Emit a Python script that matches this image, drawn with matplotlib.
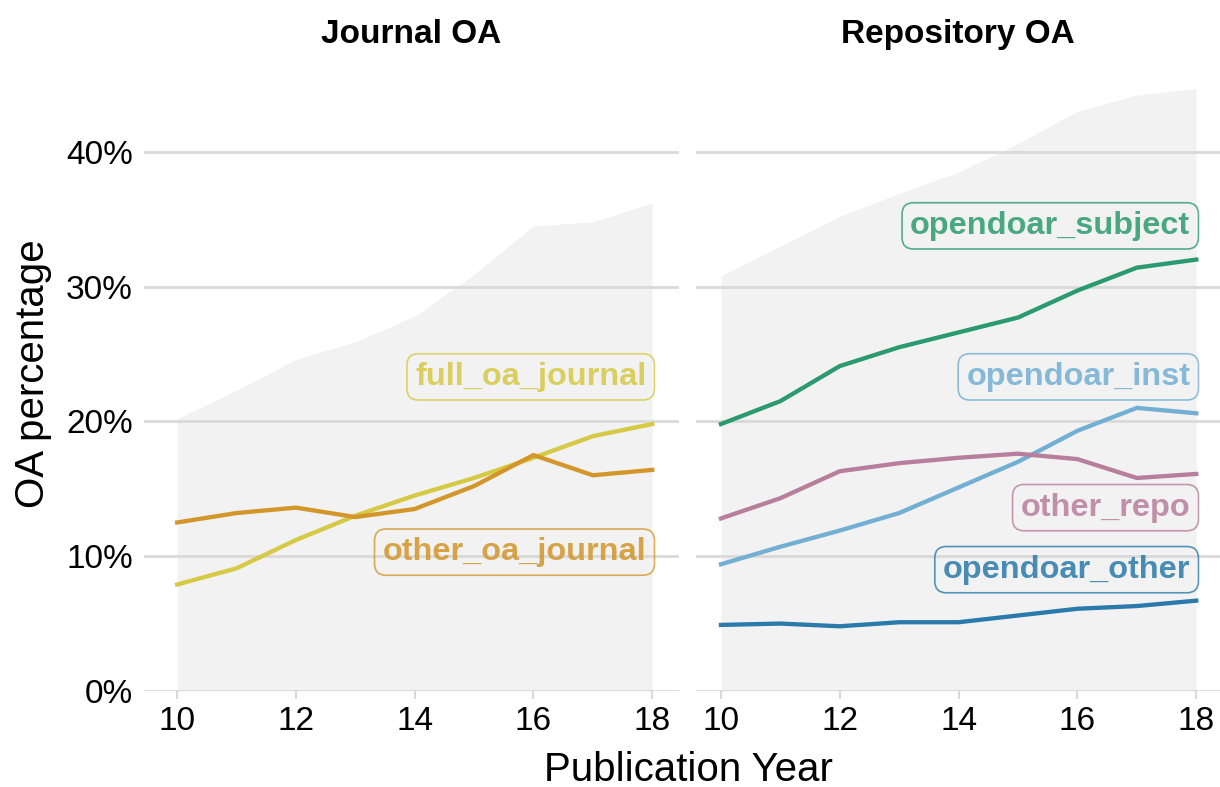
import matplotlib.pyplot as plt
from matplotlib.ticker import FuncFormatter

plt.rcParams['font.family'] = ['Liberation Sans', 'DejaVu Sans']

years = [10, 11, 12, 13, 14, 15, 16, 17, 18]

# total OA (background area) per panel
journal_total = [20.2, 22.3, 24.6, 25.9, 27.8, 30.9, 34.5, 34.8, 36.2]
repo_total = [30.8, 33.0, 35.2, 36.9, 38.5, 40.6, 43.0, 44.2, 44.7]

full_oa_journal = [7.9, 9.1, 11.2, 13.0, 14.5, 15.8, 17.3, 18.9, 19.8]
other_oa_journal = [12.5, 13.2, 13.6, 12.9, 13.5, 15.2, 17.5, 16.0, 16.4]

opendoar_subject = [19.8, 21.5, 24.1, 25.5, 26.6, 27.7, 29.7, 31.4, 32.0]
opendoar_inst = [9.4, 10.7, 11.9, 13.2, 15.1, 17.0, 19.3, 21.0, 20.6]
other_repo = [12.8, 14.3, 16.3, 16.9, 17.3, 17.6, 17.2, 15.8, 16.1]
opendoar_other = [4.9, 5.0, 4.8, 5.1, 5.1, 5.6, 6.1, 6.3, 6.7]

# label name, values, colour, label y position
journal_series = [
    ('full_oa_journal', full_oa_journal, '#d6c944', 23.3),
    ('other_oa_journal', other_oa_journal, '#d3962a', 10.3),
]
repo_series = [
    ('opendoar_subject', opendoar_subject, '#2b9a73', 34.5),
    ('opendoar_inst', opendoar_inst, '#72afd3', 23.3),
    ('other_repo', other_repo, '#b87e9d', 13.6),
    ('opendoar_other', opendoar_other, '#2a7aab', 9.0),
]

fig = plt.figure(figsize=(12.2, 7.87), dpi=100)
ax1 = fig.add_axes([0.118, 0.122, 0.4385, 0.776])
ax2 = fig.add_axes([0.5705, 0.122, 0.4295, 0.776])

panels = [
    (ax1, 'Journal OA', journal_total, journal_series, (9.44, 18.45)),
    (ax2, 'Repository OA', repo_total, repo_series, (9.58, 18.4)),
]

for ax, title, total, series, xlim in panels:
    ax.fill_between(years, 0, total, color='#f2f2f2', lw=0, zorder=1)
    for name, vals, col, ly in series:
        ax.plot(years, vals, color=col, lw=3.1, zorder=3, solid_joinstyle='round')
        ax.text(17.9, ly, name, color=col, alpha=0.85, fontsize=23.4,
                fontweight='bold', ha='right', va='center', zorder=4,
                bbox=dict(boxstyle='round,pad=0.25,rounding_size=0.35',
                          fc='none', ec=col, lw=1.2, alpha=0.8))
    ax.set_xlim(*xlim)
    ax.set_ylim(0, 45.3)
    ax.set_yticks([0, 10, 20, 30, 40])
    ax.set_xticks([10, 12, 14, 16, 18])
    ax.grid(axis='y', color='#d9d9d9', lw=2, zorder=0)
    for s in ax.spines.values():
        s.set_visible(False)
    ax.tick_params(axis='x', length=6, width=1.5, color='#d9d9d9',
                   labelsize=24, pad=5)
    ax.tick_params(axis='y', length=0, labelsize=24, pad=8)
    ax.set_title(title, fontsize=24, fontweight='bold', pad=27)
    ax.yaxis.set_major_formatter(FuncFormatter(lambda v, p: f'{v:.0f}%'))

ax2.tick_params(axis='y', labelleft=False)
ax1.set_ylabel('OA percentage', fontsize=29)
ax1.yaxis.set_label_coords(-0.172, 0.52)
fig.text(0.564, 0.022, 'Publication Year', fontsize=29, ha='center', va='center')

fig.savefig('out.png', dpi=100)
